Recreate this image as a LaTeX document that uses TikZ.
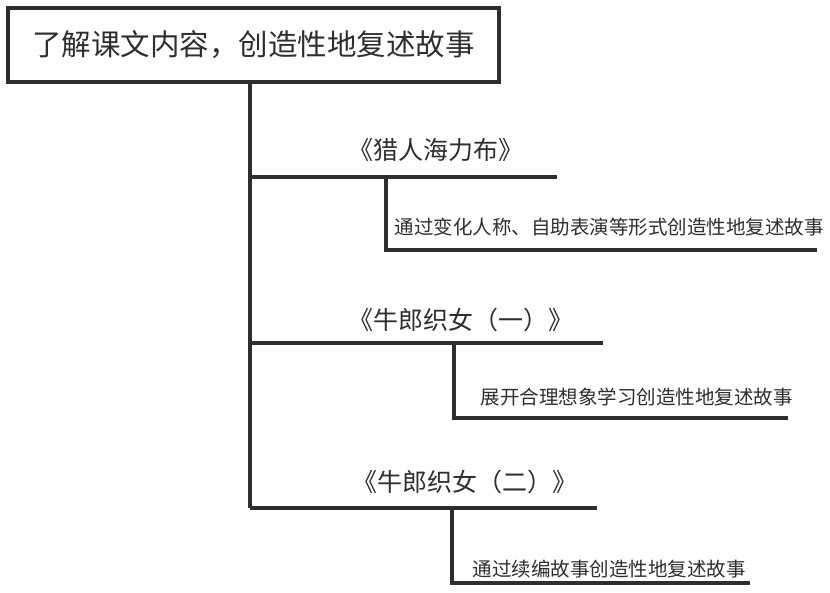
\documentclass[tikz,border=0pt]{standalone}
\usepackage{fontspec}
\setmainfont{Noto Sans CJK SC}
\usetikzlibrary{positioning}

\definecolor{inkgray}{HTML}{2E2E2E}

\begin{document}
\begin{tikzpicture}[
	x = 1pt,
	y = -1pt,
	line width = 3.2pt,
	draw = inkgray,
	text = inkgray,
	rootbox/.style = {
		draw = inkgray,
		line width = 3.2pt,
		minimum width = 491pt,
		minimum height = 74pt,
		inner sep = 0pt,
		font = \fontsize{29.5}{34}\selectfont
	},
	booktitle/.style = {
		inner sep = 0pt,
		font = \fontsize{25}{30}\selectfont
	},
	method/.style = {
		anchor = west,
		inner sep = 0pt,
		font = \fontsize{19.5}{24}\selectfont
	}
	]
	\useasboundingbox (0,0) rectangle (830,593);
	\node[rootbox] (root) at (253.5,45) {了解课文内容，创造性地复述故事};

	% branch points on the trunk
	\coordinate (b1) at (250,177);
	\coordinate (b2) at (250,343);
	\coordinate (b3) at (250,508);
	\coordinate (b1e) at (557,177);
	\coordinate (b2e) at (603,343);
	\coordinate (b3e) at (597,508);
	\draw (b1 |- root.south) -- (b3);
	\draw (b1) -- (b1e);
	\draw (b2) -- (b2e);
	\draw (b3) -- (b3e);

	% sub branches
	\coordinate (s1) at (386,177);
	\coordinate (s2) at (454,343);
	\coordinate (s3) at (452,508);
	\coordinate (s1e) at (817,250);
	\coordinate (s2e) at (788,418);
	\coordinate (s3e) at (750,583);
	\draw (s1) |- (s1e);
	\draw (s2) |- (s2e);
	\draw (s3) |- (s3e);

	\node[booktitle] (t1) at (436,150) {《猎人海力布》};
	\node[booktitle] (t2) at (461,320) {《牛郎织女（一）》};
	\node[booktitle] (t3) at (465,482) {《牛郎织女（二）》};

	\node[method] (m1) at (393,227) {通过变化人称、自助表演等形式创造性地复述故事};
	\node[method] (m2) at (479,397) {展开合理想象学习创造性地复述故事};
	\node[method] (m3) at (471,569) {通过续编故事创造性地复述故事};
\end{tikzpicture}
\end{document}
